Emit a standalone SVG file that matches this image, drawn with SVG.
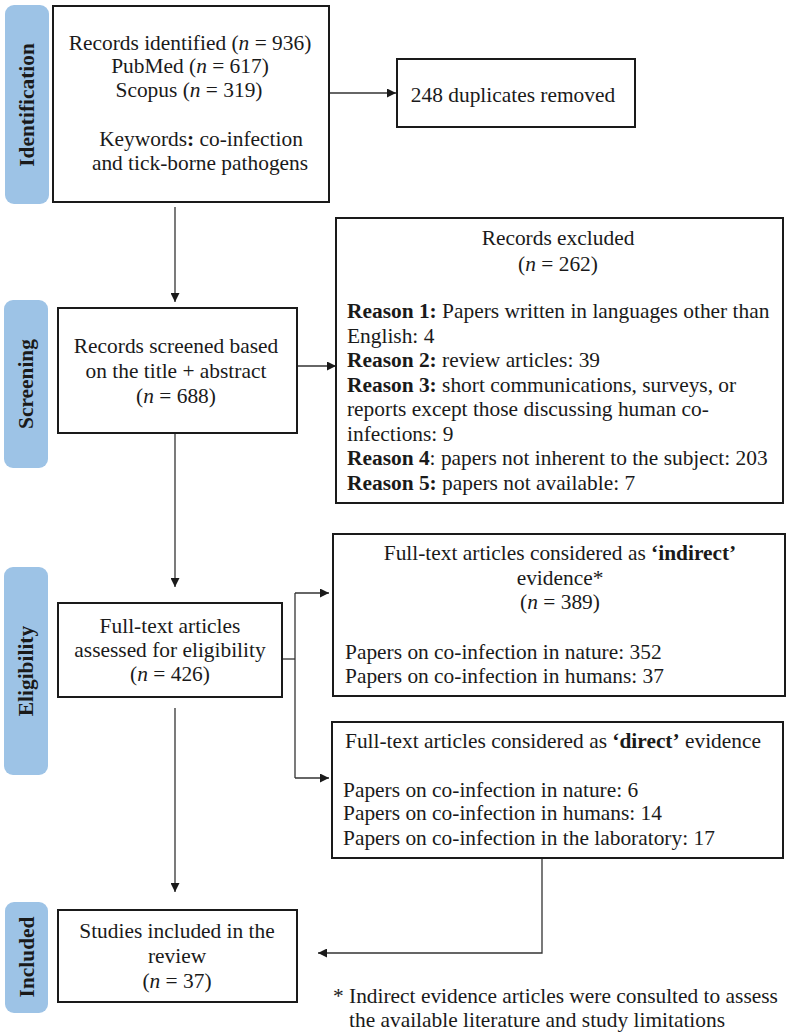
<svg xmlns="http://www.w3.org/2000/svg" width="789" height="1035" viewBox="0 0 789 1035">
<defs>
<style>
text{font-family:"Liberation Serif","Times New Roman",serif;font-size:21.4px;fill:#1a1a1a}
.c{text-anchor:middle}
.b{font-weight:bold}
.i{font-style:italic}
.lab{fill:#9dc3e6}
.labt{font-weight:bold;text-anchor:middle;font-size:21.4px}
.box{fill:#fff;stroke:#1a1a1a;stroke-width:2}
.con{fill:none;stroke:#333;stroke-width:1.3}
</style>
<marker id="ah" viewBox="0 0 10 10" refX="10" refY="5" markerWidth="9" markerHeight="9" markerUnits="userSpaceOnUse" orient="auto">
<path d="M0,0 L10,5 L0,10 z" fill="#1a1a1a"/>
</marker>
</defs>
<rect width="789" height="1035" fill="#fff"/>

<g id="label-identification">
<rect class="lab" x="5" y="5" width="44" height="199" rx="9"/>
<text class="labt" transform="translate(34,105) rotate(-90)">Identification</text>
</g>
<g id="label-screening">
<rect class="lab" x="4" y="300" width="44" height="168" rx="9"/>
<text class="labt" transform="translate(33,384) rotate(-90)">Screening</text>
</g>
<g id="label-eligibility">
<rect class="lab" x="4" y="567" width="44" height="208" rx="9"/>
<text class="labt" transform="translate(33,671) rotate(-90)">Eligibility</text>
</g>
<g id="label-included">
<rect class="lab" x="5" y="902" width="43" height="111" rx="9"/>
<text class="labt" transform="translate(34,957) rotate(-90)">Included</text>
</g>

<g id="connectors">
<line class="con" x1="329" y1="93" x2="396" y2="93" marker-end="url(#ah)"/>
<line class="con" x1="175" y1="207" x2="175" y2="302" marker-end="url(#ah)"/>
<line class="con" x1="297" y1="366" x2="336" y2="366" marker-end="url(#ah)"/>
<line class="con" x1="175" y1="433" x2="175" y2="587" marker-end="url(#ah)"/>
<polyline class="con" points="282,659 295,659"/>
<line class="con" x1="295" y1="593" x2="295" y2="778"/>
<line class="con" x1="295" y1="593" x2="329" y2="593" marker-end="url(#ah)"/>
<line class="con" x1="295" y1="778" x2="329" y2="778" marker-end="url(#ah)"/>
<line class="con" x1="175" y1="708" x2="175" y2="892" marker-end="url(#ah)"/>
<polyline class="con" points="542,858 542,953 318,953" marker-end="url(#ah)"/>
</g>

<g id="node-identified">
<rect class="box" x="53" y="6" width="276" height="196"/>
<text class="c" x="190" y="50">Records identified (<tspan class="i">n</tspan> = 936)</text>
<text class="c" x="190" y="73">PubMed (<tspan class="i">n</tspan> = 617)</text>
<text class="c" x="189" y="97">Scopus (<tspan class="i">n</tspan> = 319)</text>
<text class="c" x="201" y="146">Keywords<tspan class="b">:</tspan> co-infection</text>
<text class="c" x="200" y="170">and tick-borne pathogens</text>
</g>

<g id="node-duplicates">
<rect class="box" x="397" y="59" width="238" height="68"/>
<text class="c" x="513" y="102">248 duplicates removed</text>
</g>

<g id="node-screened">
<rect class="box" x="58" y="308" width="239" height="125"/>
<text class="c" x="176" y="353">Records screened based</text>
<text class="c" x="176" y="378">on the title + abstract</text>
<text class="c" x="176" y="403">(<tspan class="i">n</tspan> = 688)</text>
</g>

<g id="node-excluded">
<rect class="box" x="336" y="218" width="447" height="285"/>
<text class="c" x="558" y="245">Records excluded</text>
<text class="c" x="558" y="271">(<tspan class="i">n</tspan> = 262)</text>
<text x="347" y="318"><tspan class="b">Reason 1:</tspan> Papers written in languages other than</text>
<text x="347" y="342.5">English: 4</text>
<text x="347" y="367"><tspan class="b">Reason 2:</tspan> review articles: 39</text>
<text x="347" y="391.5"><tspan class="b">Reason 3:</tspan> short communications, surveys, or</text>
<text x="347" y="416">reports except those discussing human co-</text>
<text x="347" y="440.5">infections: 9</text>
<text x="347" y="465"><tspan class="b">Reason 4</tspan>: papers not inherent to the subject: 203</text>
<text x="347" y="489.5"><tspan class="b">Reason 5:</tspan> papers not available: 7</text>
</g>

<g id="node-eligibility">
<rect class="box" x="58" y="603" width="224" height="94"/>
<text class="c" x="170" y="633">Full-text articles</text>
<text class="c" x="170" y="657">assessed for eligibility</text>
<text class="c" x="170" y="681">(<tspan class="i">n</tspan> = 426)</text>
</g>

<g id="node-indirect">
<rect class="box" x="333" y="534" width="452" height="162"/>
<text class="c" x="560" y="560">Full-text articles considered as <tspan class="b">‘indirect’</tspan></text>
<text class="c" x="560" y="585">evidence*</text>
<text class="c" x="560" y="609">(<tspan class="i">n</tspan> = 389)</text>
<text x="345" y="659">Papers on co-infection in nature: 352</text>
<text x="345" y="683">Papers on co-infection in humans: 37</text>
</g>

<g id="node-direct">
<rect class="box" x="332" y="722" width="451" height="136"/>
<text x="345" y="748">Full-text articles considered as <tspan class="b">‘direct’</tspan> evidence</text>
<text x="343" y="797">Papers on co-infection in nature: 6</text>
<text x="343" y="820">Papers on co-infection in humans: 14</text>
<text x="343" y="845">Papers on co-infection in the laboratory: 17</text>
</g>

<g id="node-included">
<rect class="box" x="58" y="910" width="239" height="92"/>
<text class="c" x="177" y="938">Studies included in the</text>
<text class="c" x="177" y="963">review</text>
<text class="c" x="177" y="988">(<tspan class="i">n</tspan> = 37)</text>
</g>

<g id="footnote">
<text x="333" y="1003">* Indirect evidence articles were consulted to assess</text>
<text x="349" y="1027">the available literature and study limitations</text>
</g>
</svg>
